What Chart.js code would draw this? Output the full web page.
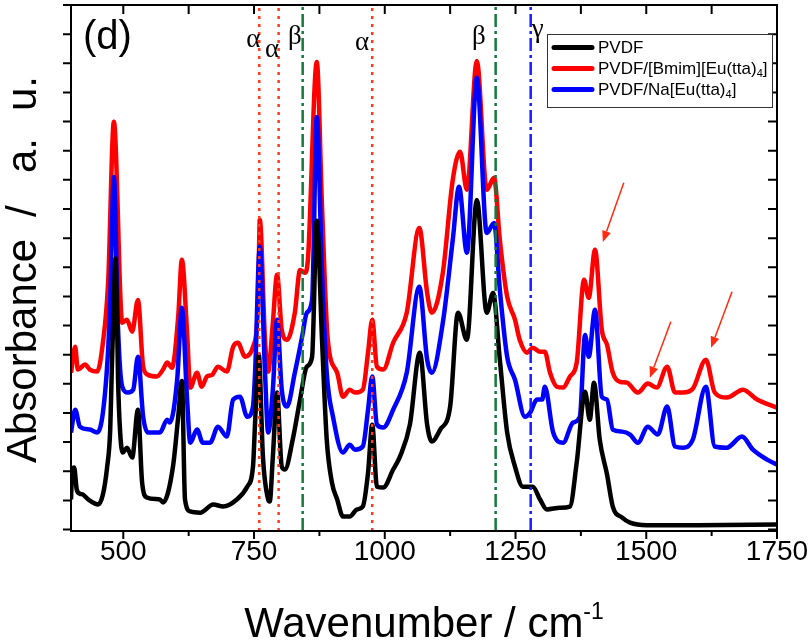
<!DOCTYPE html>
<html>
<head>
<meta charset="utf-8">
<script src="https://cdn.jsdelivr.net/npm/chart.js"></script>
<style>
  html, body { margin: 0; padding: 0; background: #ffffff; }
</style>
</head>
<body>
<canvas id="ftirChart" width="810" height="643"></canvas>
<script>
// --- FTIR spectra (wavenumber / cm-1, absorbance offset as plotted) ---
const pvdfWn = [400, 402, 406, 411, 417, 423, 433, 446, 452, 461, 469, 475, 478, 482, 485, 487, 490, 494, 499, 507,
  517, 528, 536, 545, 570, 576, 595, 605, 612, 618, 628, 647, 672, 691, 717, 737, 748, 752, 759, 767,
  777, 780, 786, 794, 803, 809, 824, 838, 851, 861, 870, 880, 889, 899, 909, 920, 933, 947, 958, 968,
  976, 985, 997, 1016, 1029, 1048, 1067, 1081, 1090, 1106, 1125, 1140, 1157, 1176, 1195, 1207, 1220, 1234, 1249, 1264,
  1283, 1297, 1310, 1335, 1354, 1367, 1383, 1392, 1400, 1411, 1425, 1436, 1454, 1469, 1501, 1600, 1750];
const pvdfAbs = [1.03, 1.89, 2.13, 1.37, 1.23, 1.20, 1.03, 0.89, 0.86, 1.20, 2.13, 3.43, 5.49, 7.88, 9.30, 8.23, 5.14, 3.33, 2.64, 2.81,
  2.47, 4.11, 1.61, 1.10, 1.03, 0.93, 2.16, 3.87, 5.10, 1.03, 0.62, 0.58, 0.86, 0.79, 1.03, 1.47, 2.16, 3.67, 6.00, 2.50,
  1.03, 0.96, 2.50, 4.70, 2.16, 2.06, 3.09, 4.46, 5.59, 5.93, 10.60, 6.51, 3.09, 1.61, 1.03, 0.45, 0.45, 0.69, 0.79, 1.95,
  3.60, 1.47, 1.44, 2.06, 2.50, 3.60, 6.07, 3.60, 3.02, 3.43, 4.22, 7.44, 6.51, 11.31, 7.44, 8.12, 5.83, 3.33, 2.16, 1.47,
  1.47, 1.03, 0.69, 0.75, 0.79, 2.30, 4.73, 3.77, 5.04, 3.09, 1.89, 0.79, 0.41, 0.24, 0.15, 0.15, 0.17];

const bmimWn = [400, 408, 413, 427, 436, 450, 461, 471, 482, 498, 507, 517, 528, 538, 547, 564, 576, 584, 593, 605,
  612, 622, 628, 641, 650, 660, 670, 681, 698, 710, 719, 733, 748, 758, 761, 771, 777, 786, 794, 803,
  813, 828, 838, 847, 853, 870, 880, 891, 909, 920, 933, 943, 958, 968, 976, 985, 997, 1016, 1042, 1066,
  1081, 1090, 1111, 1130, 1144, 1157, 1176, 1195, 1209, 1220, 1234, 1249, 1258, 1272, 1283, 1297, 1306, 1316, 1329, 1341,
  1354, 1367, 1381, 1390, 1402, 1415, 1425, 1436, 1450, 1463, 1484, 1503, 1520, 1540, 1555, 1570, 1589, 1614, 1631, 1654,
  1685, 1712, 1750];
const bmimAbs = [5.38, 6.27, 5.49, 5.66, 5.49, 5.42, 6.41, 8.47, 13.99, 7.10, 7.20, 6.79, 7.88, 5.59, 5.31, 5.25, 5.49, 5.73, 5.55, 7.30,
  9.26, 6.75, 4.87, 5.38, 4.90, 5.25, 5.31, 5.59, 5.42, 6.27, 6.41, 5.93, 6.27, 7.88, 10.63, 6.51, 5.42, 7.10, 8.74, 6.86,
  6.51, 7.44, 8.91, 8.81, 9.26, 16.04, 11.07, 6.51, 5.38, 4.56, 4.80, 4.70, 4.80, 6.07, 7.20, 5.59, 5.49, 6.41, 7.44, 10.35,
  8.12, 7.44, 8.81, 12.00, 12.96, 11.66, 16.08, 11.66, 12.07, 9.94, 7.99, 7.20, 6.51, 6.07, 6.24, 6.10, 6.10, 5.38, 4.90, 4.87,
  5.25, 5.73, 8.57, 7.95, 9.60, 6.86, 6.34, 5.38, 5.07, 5.04, 4.70, 5.01, 4.87, 5.59, 4.70, 4.70, 4.83, 5.83, 4.70, 4.53,
  4.80, 4.46, 4.18];

const naWn = [400, 408, 417, 436, 450, 461, 471, 475, 482, 490, 498, 509, 519, 528, 538, 547, 570, 584, 589, 603,
  612, 622, 628, 641, 652, 666, 681, 698, 710, 723, 737, 748, 752, 761, 771, 777, 786, 794, 803, 813,
  828, 842, 851, 861, 870, 880, 889, 901, 920, 933, 943, 958, 968, 976, 985, 997, 1016, 1042, 1066, 1081,
  1090, 1111, 1130, 1142, 1157, 1176, 1195, 1209, 1220, 1234, 1249, 1268, 1278, 1291, 1301, 1306, 1322, 1341, 1360, 1373,
  1383, 1390, 1402, 1415, 1425, 1436, 1454, 1469, 1484, 1503, 1522, 1540, 1555, 1570, 1589, 1614, 1631, 1654, 1683, 1704,
  1731, 1750];
const naAbs = [3.33, 4.11, 3.53, 3.43, 3.33, 4.01, 6.17, 7.90, 12.10, 6.86, 4.90, 4.70, 4.80, 5.93, 3.87, 3.33, 3.33, 3.77, 3.67, 5.14,
  7.61, 4.46, 2.98, 3.43, 2.98, 2.98, 3.53, 3.19, 4.46, 4.56, 3.87, 4.22, 5.38, 9.70, 5.38, 3.33, 4.80, 7.20, 4.80, 4.22,
  5.38, 6.62, 7.44, 7.88, 14.16, 8.81, 5.38, 3.87, 2.64, 2.91, 2.74, 2.85, 4.11, 5.25, 3.60, 3.50, 4.11, 5.38, 8.33, 5.83,
  5.38, 7.10, 9.94, 11.76, 9.50, 15.50, 10.18, 10.52, 8.23, 5.93, 5.14, 3.87, 4.01, 4.46, 4.46, 4.90, 3.33, 2.98, 3.67, 3.87,
  6.68, 5.93, 7.54, 4.56, 4.46, 3.43, 3.36, 3.26, 2.98, 3.53, 3.26, 4.22, 2.85, 2.81, 3.09, 4.90, 2.85, 2.81, 3.19, 2.74,
  2.40, 2.23];

const seriesNames = ['PVDF', 'PVDF/[Bmim][Eu(tta)_{4}]', 'PVDF/Na[Eu(tta)_{4}]'];
const seriesColors = ['#000000', '#ff0000', '#0000ff'];

// phase marker bands
const alphaBands = [760, 797, 976];
const betaBands = [843, 1212];
const gammaBands = [1279];

// axis ticks
const xMajorTicks = [500, 750, 1000, 1250, 1500, 1750];
const xMinorTicks = [625, 875, 1125, 1375, 1625];
const yTicks = [0, 1, 2, 3, 4, 5, 6, 7, 8, 9, 10, 11, 12, 13, 14, 15, 16, 17, 18];

// band letters over the lines: [text, wavenumber of left edge]
const bandLabels = [['α', 735], ['α', 771], ['β', 815], ['α', 943], ['β', 1167], ['γ', 1281]];
// arrows to the new Eu-complex bands: [fromWn, fromAbs, toWn, toAbs]
const arrowMarks = [[1457, 11.9, 1417, 9.87], [1547, 7.13, 1507, 5.21], [1664, 8.16, 1624, 6.24]];

const FONT = '"Liberation Sans", Arial, Helvetica, sans-serif';
const SERIF = '"Liberation Serif", "Times New Roman", serif';

function toPoints(xs, ys) {
    return xs.map((x, i) => ({ x: x, y: ys[i] }));
}

function bandLine(wn, color, dash) {
    return {
        data: [{ x: wn, y: -0.05 }, { x: wn, y: 18 }],
        borderColor: color,
        borderWidth: 2.5,
        borderDash: dash,
        pointRadius: 0,
        order: 0
    };
}

// draws text with _{sub} and ^{sup} parts, left or centred on x
function richText(ctx, str, x, y, size, family, align) {
    const parts = str.split(/(_\{[^}]*\}|\^\{[^}]*\})/).filter(Boolean).map(p => {
        if (p.startsWith('_{')) return { t: p.slice(2, -1), k: 0.62, dy: size * 0.25 };
        if (p.startsWith('^{')) return { t: p.slice(2, -1), k: 0.55, dy: -size * 0.42 };
        return { t: p, k: 1, dy: 0 };
    });
    ctx.textAlign = 'left';
    let total = 0;
    parts.forEach(p => {
        ctx.font = `${Math.round(size * p.k)}px ${family}`;
        p.w = ctx.measureText(p.t).width;
        total += p.w;
    });
    let cx = align === 'center' ? x - total / 2 : x;
    parts.forEach(p => {
        ctx.font = `${Math.round(size * p.k)}px ${family}`;
        ctx.fillText(p.t, cx, y + p.dy);
        cx += p.w;
    });
}

const framePlugin = {
    id: 'frame',
    afterDatasetsDraw(chart) {
        const ctx = chart.ctx;
        const xs = chart.scales.x, ys = chart.scales.y;
        const a = chart.chartArea;
        ctx.save();

        // band letters
        ctx.fillStyle = '#000';
        ctx.textAlign = 'left';
        ctx.textBaseline = 'alphabetic';
        const baselines = [47, 57, 44, 50, 44, 37];
        ctx.font = `27px ${SERIF}`;
        bandLabels.forEach(([t, wn], i) => ctx.fillText(t, xs.getPixelForValue(wn), baselines[i]));

        // arrows
        ctx.strokeStyle = '#ff2a10';
        ctx.fillStyle = '#ff2a10';
        ctx.lineWidth = 1.5;
        arrowMarks.forEach(([x0, y0, x1, y1]) => {
            const px0 = xs.getPixelForValue(x0), py0 = ys.getPixelForValue(y0);
            const px1 = xs.getPixelForValue(x1), py1 = ys.getPixelForValue(y1);
            const ang = Math.atan2(py1 - py0, px1 - px0);
            const head = 11, half = 4.5;
            const bx = px1 - head * Math.cos(ang), by = py1 - head * Math.sin(ang);
            ctx.beginPath();
            ctx.moveTo(px0, py0);
            ctx.lineTo(bx, by);
            ctx.stroke();
            ctx.beginPath();
            ctx.moveTo(px1, py1);
            ctx.lineTo(bx + half * Math.sin(ang), by - half * Math.cos(ang));
            ctx.lineTo(bx - half * Math.sin(ang), by + half * Math.cos(ang));
            ctx.closePath();
            ctx.fill();
        });

        // frame
        ctx.strokeStyle = '#000';
        ctx.lineWidth = 2;
        ctx.strokeRect(a.left, a.top, a.right - a.left, a.bottom - a.top);

        // ticks: out on bottom/left, in on top/right
        ctx.beginPath();
        xMajorTicks.forEach(v => {
            const px = xs.getPixelForValue(v);
            ctx.moveTo(px, a.bottom); ctx.lineTo(px, a.bottom + 8);
            ctx.moveTo(px, a.top); ctx.lineTo(px, a.top + 9);
        });
        xMinorTicks.forEach(v => {
            const px = xs.getPixelForValue(v);
            ctx.moveTo(px, a.bottom); ctx.lineTo(px, a.bottom + 5);
            ctx.moveTo(px, a.top); ctx.lineTo(px, a.top + 9);
        });
        yTicks.forEach(v => {
            const py = ys.getPixelForValue(v);
            ctx.moveTo(a.left, py); ctx.lineTo(a.left - 8, py);
            ctx.moveTo(a.right, py); ctx.lineTo(a.right - 9, py);
        });
        ctx.stroke();

        // tick labels
        ctx.fillStyle = '#000';
        ctx.font = `28px ${FONT}`;
        ctx.textAlign = 'center';
        ctx.textBaseline = 'middle';
        xMajorTicks.forEach(v => ctx.fillText(String(v), xs.getPixelForValue(v), 552));

        // axis titles
        ctx.textBaseline = 'alphabetic';
        richText(ctx, 'Wavenumber / cm^{-1}', (a.left + a.right) / 2, 637, 42, FONT, 'center');
        ctx.save();
        ctx.translate(36, 463);
        ctx.rotate(-Math.PI / 2);
        ctx.font = `42px ${FONT}`;
        ctx.textAlign = 'left';
        // wide word gaps as in the original
        ctx.fillText('Absorbance', 0, 0);
        ctx.fillText('/', 246, 0);
        ctx.fillText('a.', 290, 0);
        ctx.fillText('u.', 352, 0);
        ctx.restore();

        // panel letter
        ctx.font = `40px ${FONT}`;
        ctx.textAlign = 'left';
        ctx.fillText('(d)', 83, 49);

        // legend
        const lx = 547, ly = 34, lw = 225, lh = 73;
        ctx.fillStyle = '#fff';
        ctx.fillRect(lx, ly, lw, lh);
        ctx.strokeStyle = '#333';
        ctx.lineWidth = 1;
        ctx.strokeRect(lx + 0.5, ly + 0.5, lw, lh);
        const rows = [47.5, 68.5, 89.5];
        seriesNames.forEach((name, i) => {
            ctx.strokeStyle = seriesColors[i];
            ctx.lineWidth = 5;
            ctx.lineCap = 'round';
            ctx.beginPath();
            ctx.moveTo(554, rows[i]);
            ctx.lineTo(592, rows[i]);
            ctx.stroke();
            ctx.fillStyle = '#000';
            ctx.textBaseline = 'middle';
            richText(ctx, name, 598, rows[i] + 1, 17, FONT, 'left');
        });
        ctx.restore();
    }
};

const spectra = [
    { label: seriesNames[0], data: toPoints(pvdfWn, pvdfAbs), borderColor: seriesColors[0], order: 1 },
    { label: seriesNames[2], data: toPoints(naWn, naAbs), borderColor: seriesColors[2], order: 2 },
    { label: seriesNames[1], data: toPoints(bmimWn, bmimAbs), borderColor: seriesColors[1], order: 3 }
].map(d => Object.assign(d, { borderWidth: 4.5, pointRadius: 0, cubicInterpolationMode: 'monotone' }));

const bands = [
    ...alphaBands.map(wn => bandLine(wn, '#ff3b1a', [3, 5])),
    ...betaBands.map(wn => bandLine(wn, '#137a3c', [13, 4, 3, 4])),
    ...gammaBands.map(wn => bandLine(wn, '#1a1aff', [13, 4, 3, 4]))
];

new Chart(document.getElementById('ftirChart'), {
    type: 'line',
    data: { datasets: [...bands, ...spectra] },
    options: {
        responsive: false,
        devicePixelRatio: 1,
        animation: false,
        events: [],
        layout: { padding: { left: 71, right: 33, top: 5, bottom: 112 } },
        plugins: { legend: { display: false }, tooltip: { enabled: false } },
        scales: {
            x: { type: 'linear', min: 400, max: 1750, display: false },
            y: { type: 'linear', min: -0.05, max: 18, display: false }
        }
    },
    plugins: [framePlugin]
});
</script>
</body>
</html>
